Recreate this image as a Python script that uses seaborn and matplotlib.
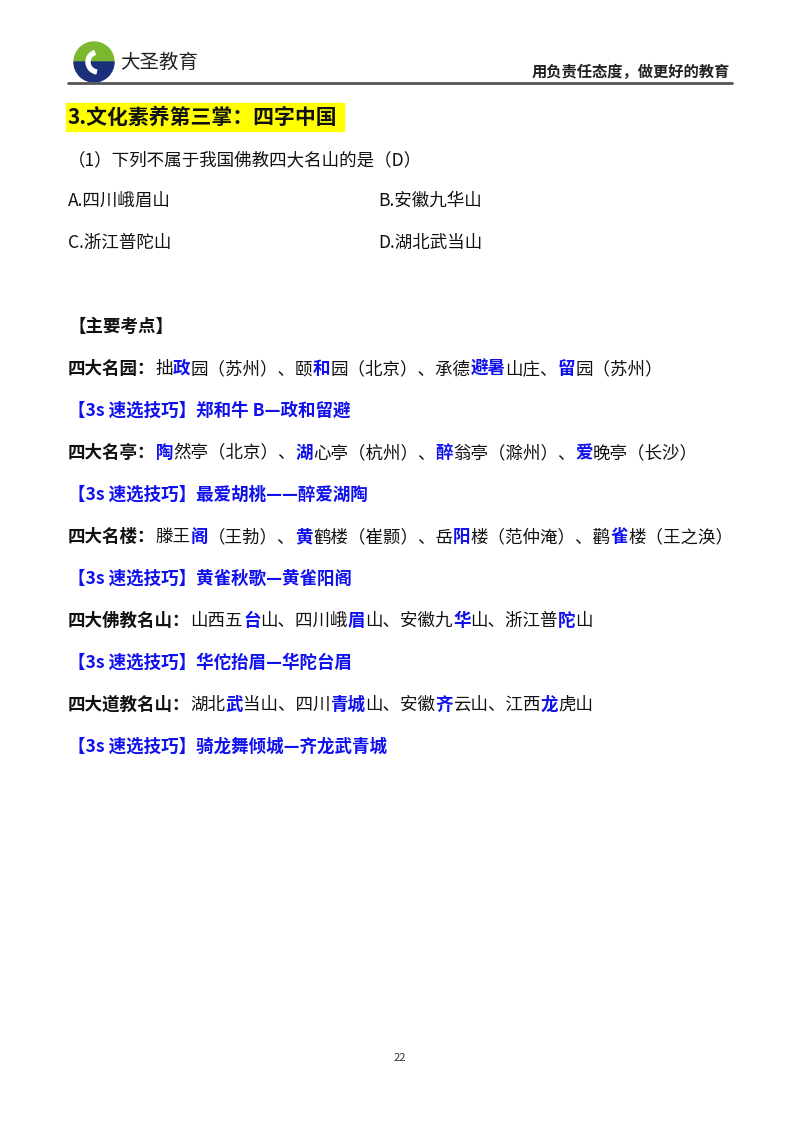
import matplotlib
matplotlib.use("Agg")
import matplotlib.pyplot as plt
import seaborn as sns
from matplotlib.patches import Rectangle, Wedge, Circle

sns.set_style("white")
plt.rcParams['font.family'] = ['Noto Sans CJK SC', 'DejaVu Sans']

BLUE = "#1010ee"
title = "3.文化素养第三掌：四字中国"
question = "（1）下列不属于我国佛教四大名山的是（D）"
options = [["A.四川峨眉山", "B.安徽九华山"], ["C.浙江普陀山", "D.湖北武当山"]]
key_head = "【主要考点】"
# segments: (text, style) n=normal, b=bold black, B=bold blue
rows = [
    [("四大名园：", "b"), ("拙", "n"), ("政", "B"), ("园（苏州）、颐", "n"), ("和", "B"), ("园（北京）、承德", "n"), ("避暑", "B"), ("山庄、", "n"), ("留", "B"), ("园（苏州）", "n")],
    [("【3s 速选技巧】郑和牛 B—政和留避", "B")],
    [("四大名亭：", "b"), ("陶", "B"), ("然亭（北京）、", "n"), ("湖", "B"), ("心亭（杭州）、", "n"), ("醉", "B"), ("翁亭（滁州）、", "n"), ("爱", "B"), ("晚亭（长沙）", "n")],
    [("【3s 速选技巧】最爱胡桃——醉爱湖陶", "B")],
    [("四大名楼：", "b"), ("滕王", "n"), ("阁", "B"), ("（王勃）、", "n"), ("黄", "B"), ("鹤楼（崔颢）、岳", "n"), ("阳", "B"), ("楼（范仲淹）、鹳", "n"), ("雀", "B"), ("楼（王之涣）", "n")],
    [("【3s 速选技巧】黄雀秋歌—黄雀阳阁", "B")],
    [("四大佛教名山：", "b"), ("山西五", "n"), ("台", "B"), ("山、四川峨", "n"), ("眉", "B"), ("山、安徽九", "n"), ("华", "B"), ("山、浙江普", "n"), ("陀", "B"), ("山", "n")],
    [("【3s 速选技巧】华佗抬眉—华陀台眉", "B")],
    [("四大道教名山：", "b"), ("湖北", "n"), ("武", "B"), ("当山、四川", "n"), ("青城", "B"), ("山、安徽", "n"), ("齐", "B"), ("云山、江西", "n"), ("龙", "B"), ("虎山", "n")],
    [("【3s 速选技巧】骑龙舞倾城—齐龙武青城", "B")],
]
slogan = "用负责任态度，做更好的教育"
brand = "大圣教育"
page = "22"

fig = plt.figure(figsize=(8, 11.32), dpi=100)
ax = fig.add_axes([0, 0, 1, 1])
ax.set_xlim(0, 800); ax.set_ylim(1132, 0); ax.axis("off")
r = fig.canvas.get_renderer()
FS = 12.6

def seg_line(x, y, segs):
    for t, s in segs:
        col = BLUE if s == "B" else "#111111"
        w = "bold" if s in "bB" else "normal"
        tx = ax.text(x, y, t, fontsize=FS, color=col, fontweight=w, va="center", ha="left")
        x += tx.get_window_extent(r).width

# header
ax.add_patch(Wedge((94, 62), 20, 180, 360, color="#7cb82f"))
ax.add_patch(Wedge((94, 62), 20, 0, 180, color="#1b2f7a"))
ax.add_patch(Wedge((98, 62), 12, 100, 250, width=4, color="white"))
ax.text(120, 62, brand, fontsize=14, va="center", color="#222222")
ax.text(730, 72, slogan, fontsize=11, fontweight="bold", va="center", ha="right", color="#222222")
ax.plot([68, 732], [83, 83], color="#555555", lw=2)

ax.add_patch(Rectangle((66, 103), 278, 28, color="#ffff00"))
ax.text(68, 117, title, fontsize=15, fontweight="bold", va="center", color="#111111")
ax.text(68, 160, question, fontsize=FS, va="center", color="#111111")
for (a, b), y in zip(options, [201, 243]):
    ax.text(68, y, a, fontsize=FS, va="center", color="#111111")
    ax.text(378, y, b, fontsize=FS, va="center", color="#111111")
ax.text(68, 327, key_head, fontsize=FS, fontweight="bold", va="center", color="#111111")
for i, segs in enumerate(rows):
    seg_line(68, 369 + 42 * i, segs)
ax.text(400, 1058, page, fontsize=8, ha="center", va="center", color="#333333")

fig.savefig("out.png", dpi=100)
